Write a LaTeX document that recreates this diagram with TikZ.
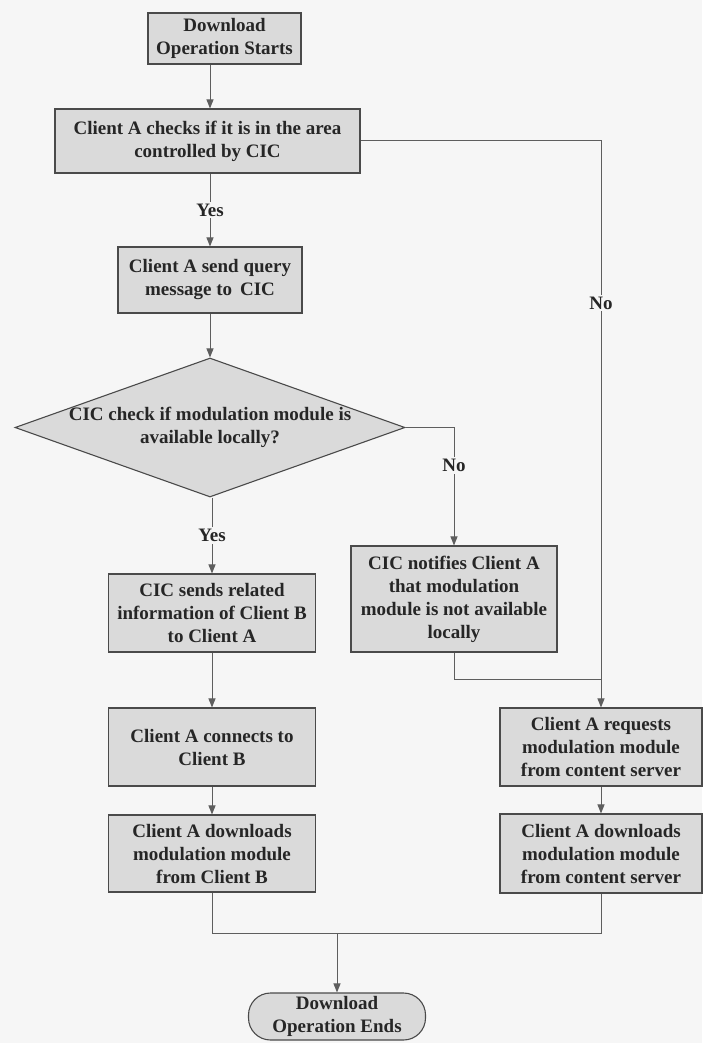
\documentclass[tikz,border=0pt]{standalone}
\usepackage{fontspec}
\setmainfont{Liberation Serif}
\usetikzlibrary{arrows.meta,shapes.geometric,calc}
\definecolor{bgc}{HTML}{F6F6F6}
\definecolor{boxfill}{HTML}{DADADA}
\definecolor{edge}{HTML}{4A4A4A}
\definecolor{wire}{HTML}{5E5E5E}
\definecolor{ink}{HTML}{262626}
\begin{document}
\begin{tikzpicture}[x=1pt,y=-1pt,
  txt/.style={font=\fontsize{19}{23}\selectfont\bfseries, text=ink, align=center},
  proc/.style={txt, draw=edge, line width=1.1pt, fill=boxfill, inner sep=0pt},
  term/.style={proc, rounded corners=22pt},
  dec/.style={shape=diamond, draw=edge, line width=1.1pt, fill=boxfill, inner sep=0pt},
  wireline/.style={draw=wire, line width=1pt},
  arr/.style={wireline, -{Triangle[length=9pt,width=7pt]}},
  lbl/.style={txt, fill=bgc, inner sep=2pt}]
% page background and size
\fill[bgc] (0,0) rectangle (702,1043);
\useasboundingbox (0,0) rectangle (702,1043);

% left column
\node[proc, minimum width=153pt, minimum height=51pt] (start) at (224.5,38.5) {Download\\Operation Starts};
\node[proc, minimum width=305pt, minimum height=64pt] (chk) at (207.5,141) {Client A checks if it is in the area\\controlled by CIC};
\node[proc, minimum width=184pt, minimum height=66pt] (qry) at (210,280) {Client A send query\\message to\, CIC};
\node[dec, minimum width=390pt, minimum height=139pt] (dec) at (210,427.5) {};
\node[txt] (dectxt) at (dec.center) {CIC check if modulation module is\\available locally?};
\node[proc, minimum width=207pt, minimum height=78pt] (send) at (212,613) {CIC sends related\\information of Client B\\to Client A};
\node[proc, minimum width=207pt, minimum height=78pt] (conn) at (212,747) {Client A connects to\\Client B};
\node[proc, minimum width=207pt, minimum height=77pt] (dlb) at (212,853.5) {Client A downloads\\modulation module\\from Client B};

% right column
\node[proc, minimum width=206pt, minimum height=106pt] (ntf) at (454,599) {CIC notifies Client A\\that modulation\\module is not available\\locally};
\node[proc, minimum width=202pt, minimum height=78pt] (req) at (601,747) {Client A requests\\modulation module\\from content server};
\node[proc, minimum width=202pt, minimum height=79pt] (dls) at (601,853.5) {Client A downloads\\modulation module\\from content server};

% end
\node[term, minimum width=177pt, minimum height=47pt] (end) at (337,1016.5) {Download\\Operation Ends};

% junction points
\coordinate (mrg) at ($(req.north)+(0,-28)$);
\coordinate (bus) at ($(end.north)+(0,-59)$);

% connectors
\draw[arr] (start.south -| qry.north) -- (chk.north -| qry.north);
\draw[arr] (chk.south -| qry.north) -- node[lbl] {Yes} (qry.north);
\draw[arr] (chk.east) -| node[lbl, pos=0.643] {No} (req.north);
\draw[arr] (qry.south) -- (dec.north);
\draw[arr] (dec.east) -| node[lbl, pos=0.66] {No} (ntf.north);
\draw[arr] (dec.south -| send.north) -- node[lbl] {Yes} (send.north);
\draw[wireline] (ntf.south) |- (mrg);
\draw[arr] (send.south) -- (conn.north);
\draw[arr] (conn.south) -- (dlb.north);
\draw[arr] (req.south) -- (dls.north);
\draw[wireline] (dlb.south) |- (bus) -| (dls.south);
\draw[arr] (bus) -- (end.north);
\end{tikzpicture}
\end{document}
